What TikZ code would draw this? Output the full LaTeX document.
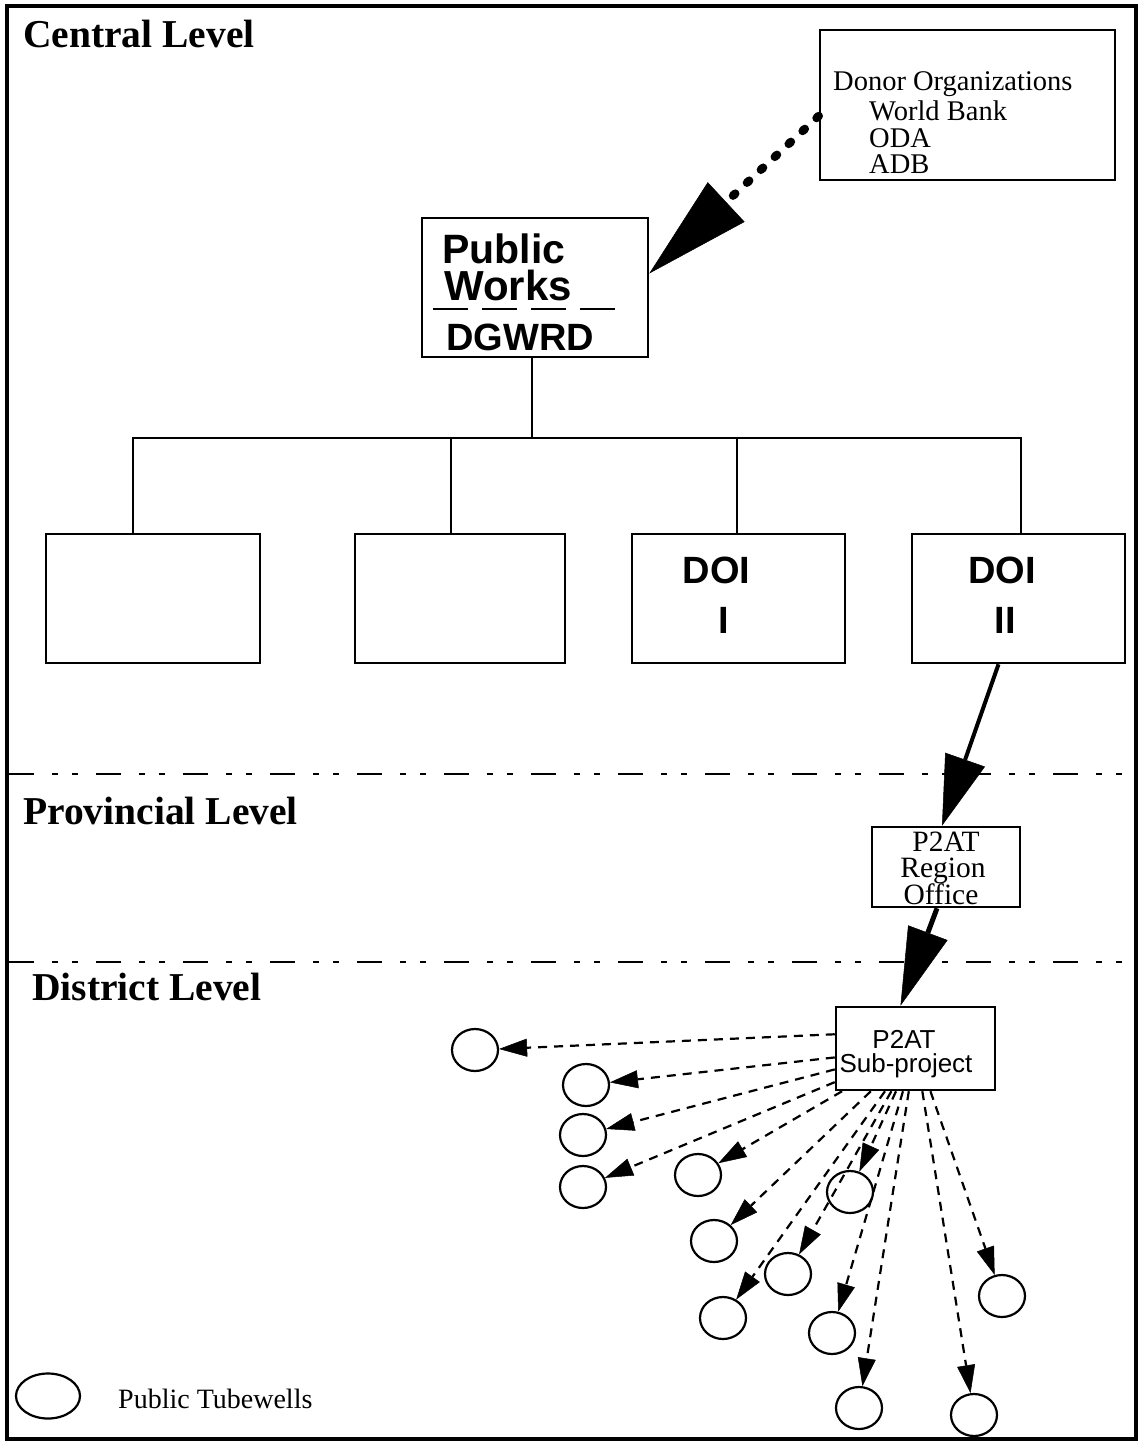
\documentclass[tikz,border=0pt]{standalone}
\usepackage{fontspec}
\setmainfont{Liberation Serif}
\newfontfamily\hv{Liberation Sans}
\usetikzlibrary{arrows.meta,shapes.geometric}
\begin{document}
\begin{tikzpicture}[x=1pt,y=-1pt,
  box/.style={draw,line width=2.5pt,inner sep=0pt,fill=white},
  well/.style={draw,ellipse,line width=2.2pt,inner sep=0pt,minimum width=46pt,minimum height=42pt},
  lvl/.style={font=\fontsize{39.5}{40}\selectfont\bfseries,anchor=base west,inner sep=0pt},
  txt/.style={inner sep=0pt,anchor=base west},
  doi/.style={inner sep=0pt,anchor=base,font=\hv\bfseries\fontsize{38}{40}\selectfont},
  divider/.style={line width=2pt,dash pattern=on 25pt off 18pt on 6pt off 14pt on 6pt off 18pt},
  tree/.style={line width=2pt},
  feed/.style={line width=2.2pt,dash pattern=on 9pt off 7pt,-{Triangle[length=28pt,width=18pt,line width=0.5pt]}},
  bigarrow/.style={-{Triangle[length=#1,width=42pt,line width=0.5pt]}}
]
\useasboundingbox (0,0) rectangle (1140,1444);
\fill[white] (0,0) rectangle (1140,1444);
\draw[line width=4pt] (7,6) rectangle (1136,1439);

% level labels
\node[lvl] (lc) at (23,47) {Central Level};
\node[lvl] (lp) at (23,824) {Provincial Level};
\node[lvl] (ld) at (32,1000) {District Level};

% level dividers
\draw[divider] (9,774) -- (1136,774);
\draw[divider] (9,962) -- (1136,962);

% donor box
\node[box,minimum width=295pt,minimum height=150pt] (dn) at (967.5,105) {};
\node[txt,font=\fontsize{28.5}{30}\selectfont] (dn1) at (833,90) {Donor Organizations};
\node[txt,font=\fontsize{28.5}{30}\selectfont] (dn2) at (869,120) {World Bank};
\node[txt,font=\fontsize{28.5}{30}\selectfont] (dn3) at (869,147) {ODA};
\node[txt,font=\fontsize{28.5}{30}\selectfont] (dn4) at (869,173) {ADB};

% public works box
\node[box,minimum width=226pt,minimum height=139pt] (pw) at (535,287.5) {};
\node[txt,font=\hv\bfseries\fontsize{41}{44}\selectfont] (pw1) at (442,263) {Public};
\node[txt,font=\hv\bfseries\fontsize{42}{44}\selectfont] (pw2) at (444,300) {Works};
\draw[line width=2pt,dash pattern=on 35pt off 14pt] (433,309) -- (615,309);
\node[txt,font=\hv\bfseries\fontsize{38}{40}\selectfont] (pw3) at (446,350) {DGWRD};

% directorates
\node[box,minimum width=214pt,minimum height=129pt] (b1) at (153,598.5) {};
\node[box,minimum width=210pt,minimum height=129pt] (b2) at (460,598.5) {};
\node[box,minimum width=213pt,minimum height=129pt] (b3) at (738.5,598.5) {};
\node[box,minimum width=213pt,minimum height=129pt] (b4) at (1018.5,598.5) {};
\node[doi] (b3a) at (716.5,583) {DOI};
\node[doi] (b3b) at (724,633) {I};
\node[doi] (b4a) at (1002,583) {DOI};
\node[doi] (b4b) at (1005,633) {II};

% tree
\coordinate (hL) at (133,438);
\coordinate (hR) at (1021,438);
\coordinate (h2) at (451,438);
\coordinate (h3) at (737,438);
\coordinate (h0) at (532,438);
\draw[tree] (pw.south -| h0) -- (h0);
\draw[tree] (hL |- b1.north) -- (hL) -- (hR) -- (hR |- b4.north);
\draw[tree] (h2) -- (h2 |- b2.north);
\draw[tree] (h3) -- (h3 |- b3.north);

% donor arrow
\draw[line width=8.5pt,line cap=round,dash pattern=on 3pt off 16pt,
      -{Triangle[length=105pt,width=54pt,line width=0.5pt]}]
  ([yshift=-11pt]dn.west) -- ([yshift=14pt]pw.east);

% provincial and district boxes
\node[box,minimum width=148pt,minimum height=80pt] (rg) at (946,867) {};
\node[inner sep=0pt,anchor=base,font=\fontsize{29.5}{26}\selectfont] (rg1) at (946,851) {P2AT};
\node[inner sep=0pt,anchor=base,font=\fontsize{29.5}{26}\selectfont] (rg2) at (943,877) {Region};
\node[inner sep=0pt,anchor=base,font=\fontsize{29.5}{26}\selectfont] (rg3) at (941,904) {Office};

\node[box,minimum width=159pt,minimum height=83pt] (sp) at (915.5,1048.5) {};
\node[inner sep=0pt,anchor=base,font=\hv\fontsize{26}{28}\selectfont] (sp1) at (904,1048) {P2AT};
\node[inner sep=0pt,anchor=base,font=\hv\fontsize{26}{28}\selectfont] (sp2) at (906,1072) {Sub-project};

\draw[line width=4pt,bigarrow=70pt] ([xshift=-20pt]b4.south) -- ([xshift=-4pt]rg.north);
\draw[line width=5pt,bigarrow=78pt] ([xshift=-9pt]rg.south) -- ([xshift=-15pt]sp.north);

% tubewells
\node[well] (c1) at (475,1050) {};
\node[well] (c2) at (586,1085) {};
\node[well] (c3) at (583,1135) {};
\node[well] (c4) at (583,1187) {};
\node[well] (c5) at (698,1175) {};
\node[well] (c6) at (714,1241) {};
\node[well] (c7) at (850,1192) {};
\node[well] (c8) at (788,1274) {};
\node[well] (c9) at (723,1318) {};
\node[well] (c10) at (832,1333) {};
\node[well] (c11) at (1002,1296) {};
\node[well] (c12) at (859,1408) {};
\node[well] (c13) at (974,1415) {};
\draw[feed] (sp.170) -- (c1);
\foreach \i in {2,...,13} {
  \draw[feed] (sp) -- (c\i);
}

% legend
\node[draw,ellipse,line width=2.2pt,inner sep=0pt,minimum width=64pt,minimum height=45pt] (lg) at (48,1396) {};
\node[txt,font=\fontsize{28}{30}\selectfont] (lgt) at (118,1408) {Public Tubewells};
\end{tikzpicture}
\end{document}
